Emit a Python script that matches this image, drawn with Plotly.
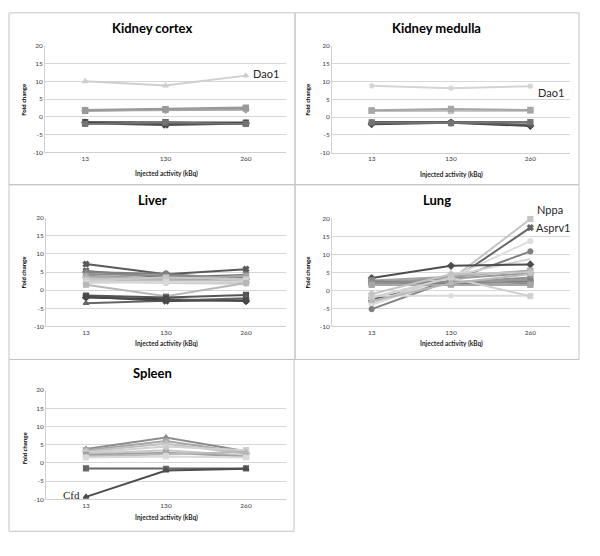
import plotly.graph_objects as go

# ---------------- data ----------------
doses = ["13", "130", "260"]
y_ticks = [-10, -5, 0, 5, 10, 15, 20]
panel_titles = ["Kidney cortex", "Kidney medulla", "Liver", "Lung", "Spleen"]
x_title = "Injected activity (kBq)"
y_title = "Fold change"

cortex_values = [
    [10.0, 8.8, 11.6],
    [1.7, 2.0, 2.4],
    [1.8, 1.9, 2.0],
    [1.9, 2.2, 2.6],
    [-1.5, -1.5, -1.6],
    [-1.8, -2.3, -1.9],
    [-1.6, -1.8, -1.8],
    [-2.0, -1.6, -2.0],
]
cortex_labels = ["Dao1", "", "", "", "", "", "", ""]

medulla_values = [
    [8.8, 8.1, 8.7],
    [1.8, 2.0, 1.9],
    [1.7, 1.7, 1.8],
    [1.9, 2.3, 2.0],
    [-1.4, -1.4, -1.5],
    [-2.0, -1.6, -2.5],
    [-1.8, -1.5, -2.2],
    [-1.5, -1.7, -1.4],
]
medulla_labels = ["Dao1", "", "", "", "", "", "", ""]

liver_values = [
    [7.2, 4.4, 5.8],
    [5.3, 3.5, 4.2],
    [5.0, 4.5, 3.0],
    [4.5, 4.0, 3.5],
    [4.0, 3.2, 2.5],
    [3.8, 3.0, 4.0],
    [3.5, 2.8, 2.2],
    [3.0, 2.5, 2.0],
    [2.8, 3.5, 3.0],
    [2.5, 2.0, 1.8],
    [2.0, 2.2, 2.5],
    [1.5, -1.7, 2.0],
    [-1.5, -2.0, -1.3],
    [-2.0, -2.5, -3.0],
    [-3.6, -2.8, -2.2],
    [-1.8, -3.0, -2.8],
]
liver_labels = [""] * 16

lung_values = [
    [-3.0, 3.0, 19.8],
    [-2.5, 2.5, 17.4],
    [-4.0, 3.5, 13.7],
    [-5.2, 2.8, 10.8],
    [-3.5, 4.0, 8.7],
    [3.4, 6.8, 7.2],
    [2.7, 3.8, 5.5],
    [2.3, 3.2, 4.8],
    [2.0, 2.0, 3.6],
    [1.8, 2.5, 3.0],
    [2.5, 1.8, 2.5],
    [2.2, 2.3, 2.0],
    [1.5, 1.6, 1.5],
    [-1.5, -1.5, -1.5],
    [-2.0, 3.5, -1.6],
    [-3.0, 2.0, 4.5],
    [-1.0, 4.5, 5.0],
]
lung_labels = ["Nppa", "Asprv1"] + [""] * 15

spleen_values = [
    [3.8, 7.0, 3.2],
    [3.5, 6.0, 2.8],
    [3.2, 5.3, 2.5],
    [2.8, 4.5, 3.5],
    [2.5, 3.5, 2.0],
    [2.2, 2.8, 1.8],
    [1.8, 2.5, 3.0],
    [1.5, 1.8, 1.5],
    [-1.5, -1.6, -1.5],
    [-9.3, -2.1, -1.6],
]
spleen_labels = [""] * 9 + ["Cfd"]

# ---------------- styles ----------------
cortex_style = [
    ("#cfcfcf", "triangle-up"), ("#8c8c8c", "square"), ("#a6a6a6", "diamond"),
    ("#999999", "square"), ("#595959", "square"), ("#4d4d4d", "x"),
    ("#404040", "diamond"), ("#737373", "square"),
]
medulla_style = [
    ("#d4d4d4", "asterisk-open"), ("#b3b3b3", "square"), ("#c0c0c0", "square"),
    ("#a6a6a6", "square"), ("#4d4d4d", "asterisk-open"), ("#404040", "diamond"),
    ("#595959", "circle"), ("#737373", "square"),
]
liver_style = [
    ("#595959", "x"), ("#666666", "square"), ("#808080", "diamond"),
    ("#8c8c8c", "triangle-up"), ("#999999", "circle"), ("#a6a6a6", "square"),
    ("#b3b3b3", "diamond"), ("#bfbfbf", "triangle-up"), ("#c8c8c8", "square"),
    ("#d0d0d0", "circle"), ("#d9d9d9", "square"), ("#b8b8b8", "square"),
    ("#555555", "square"), ("#404040", "diamond"), ("#666666", "triangle-up"),
    ("#4a4a4a", "x"),
]
lung_style = [
    ("#c4c4c4", "square"), ("#666666", "x"), ("#dedede", "circle"),
    ("#808080", "circle"), ("#d4d4d4", None), ("#4d4d4d", "diamond"),
    ("#a6a6a6", "square"), ("#999999", "diamond"), ("#8c8c8c", "square"),
    ("#999999", "triangle-up"), ("#808080", "square"), ("#8c8c8c", "square"),
    ("#a6a6a6", "square"), ("#dadada", "asterisk-open"), ("#d0d0d0", "x"),
    ("#b8b8b8", "triangle-up"), ("#c4c4c4", "diamond"),
]
spleen_style = [
    ("#8c8c8c", "triangle-up"), ("#a6a6a6", "square"), ("#bfbfbf", "diamond"),
    ("#d0d0d0", "square"), ("#c8c8c8", "circle"), ("#a0a0a0", "square"),
    ("#b8b8b8", "triangle-up"), ("#dadada", "square"), ("#666666", "square"),
    ("#4d4d4d", "triangle-up"),
]

W, H = 600, 556
FONT = "Lato, Carlito, 'Liberation Sans', sans-serif"

# panel geometry in pixels: plot area (x0, x1, ytop, ybot), frame (x0, x1, y0, y1)
panels = [
    dict(vals=cortex_values, labs=cortex_labels, sty=cortex_style,
         plot=(45, 286, 42.3, 150.3), frame=(9, 295, 9, 183),
         title=(152, 24), ytitle=(24, 97), xtitle=(166, 172),
         lab=dict(xshift=5, yshift=2)),
    dict(vals=medulla_values, labs=medulla_labels, sty=medulla_style,
         plot=(332, 570, 42.5, 150.5), frame=(295, 579, 9, 183),
         title=(436, 24), ytitle=(308, 97), xtitle=(451, 173),
         lab=dict(xshift=6, yshift=-6)),
    dict(vals=liver_values, labs=liver_labels, sty=liver_style,
         plot=(46, 286, 216.5, 326.5), frame=(9, 295, 183, 360),
         title=(152, 199), ytitle=(24, 272), xtitle=(166, 344),
         lab=dict(xshift=5, yshift=0)),
    dict(vals=lung_values, labs=lung_labels, sty=lung_style,
         plot=(332, 570, 217, 326.5), frame=(295, 579, 183, 360),
         title=(437, 199), ytitle=(308, 272), xtitle=(451, 344),
         lab=dict(xshift=5, yshift=9)),
    dict(vals=spleen_values, labs=spleen_labels, sty=spleen_style,
         plot=(46, 286, 391, 501.7), frame=(9, 294, 360, 534),
         title=(152, 374), ytitle=(24, 450), xtitle=(166, 520),
         lab=dict(xshift=-4, yshift=2)),
]


def px(xp):
    return xp / W


def py(yp):
    return 1 - yp / H


x_idx = list(range(len(doses)))

fig = go.Figure()
annotations = []
shapes = []
layout_axes = {}

for i, p in enumerate(panels):
    n = i + 1
    xa = "x" if n == 1 else f"x{n}"
    ya = "y" if n == 1 else f"y{n}"
    x0, x1, yt, yb = p["plot"]
    layout_axes["xaxis" if n == 1 else f"xaxis{n}"] = dict(
        domain=[px(x0), px(x1)], anchor=ya,
        range=[-0.5, len(doses) - 0.5], tickvals=x_idx, ticktext=doses,
        showgrid=False, zeroline=False,
        showline=True, linecolor="#d0d0d0", linewidth=1,
        ticks="", tickfont=dict(family=FONT, size=6.5, color="#404040"),
        fixedrange=True,
    )
    layout_axes["yaxis" if n == 1 else f"yaxis{n}"] = dict(
        domain=[py(yb), py(yt)], anchor=xa, range=[-10, 20],
        tickvals=y_ticks, ticktext=[str(v) for v in y_ticks],
        showgrid=True, gridcolor="#d6d6d6", gridwidth=1, zeroline=False,
        showline=True, linecolor="#d0d0d0", linewidth=1,
        ticks="", tickfont=dict(family=FONT, size=6.5, color="#404040"),
        fixedrange=True,
    )
    for vals, lab, (col, sym) in zip(p["vals"], p["labs"], p["sty"]):
        mode = "lines" if sym is None else "lines+markers"
        marker = dict(size=5, color=col, symbol=sym or "circle",
                      line=dict(color=col, width=1.2))
        fig.add_trace(go.Scatter(
            x=x_idx, y=vals, mode=mode, xaxis=xa, yaxis=ya,
            line=dict(color=col, width=2), marker=marker,
            cliponaxis=False, hoverinfo="skip",
        ))
        if lab:
            k = 0 if lab == "Cfd" else len(doses) - 1
            annotations.append(dict(
                x=x_idx[k], y=vals[k], xref=xa, yref=ya, text=lab,
                showarrow=False,
                xanchor="right" if k == 0 else "left", yanchor="middle",
                xshift=p["lab"]["xshift"] if lab != "Asprv1" else 4,
                yshift=p["lab"]["yshift"] if lab != "Asprv1" else 0,
                font=dict(family="'Liberation Serif', serif" if lab == "Cfd" else FONT,
                          size=11, color="#262626"),
            ))
    fx0, fx1, fy0, fy1 = p["frame"]
    shapes.append(dict(type="rect", xref="paper", yref="paper",
                       x0=px(fx0), x1=px(fx1), y0=py(fy1), y1=py(fy0),
                       line=dict(color="#c4c4c4", width=1), layer="below"))
    tx, ty = p["title"]
    annotations.append(dict(x=px(tx), y=py(ty), xref="paper", yref="paper",
                            text=f"<b>{panel_titles[i]}</b>", showarrow=False,
                            xanchor="center", yanchor="middle",
                            font=dict(family=FONT, size=13, color="#000000")))
    yx, yy = p["ytitle"]
    annotations.append(dict(x=px(yx), y=py(yy), xref="paper", yref="paper",
                            text=f"<b>{y_title}</b>", showarrow=False, textangle=-90,
                            xanchor="center", yanchor="middle",
                            font=dict(family=FONT, size=6, color="#000000")))
    xx, xy = p["xtitle"]
    annotations.append(dict(x=px(xx), y=py(xy), xref="paper", yref="paper",
                            text=f"<b>{x_title}</b>", showarrow=False,
                            xanchor="center", yanchor="middle",
                            font=dict(family=FONT, size=6.5, color="#262626")))

fig.update_layout(
    width=W, height=H, margin=dict(l=0, r=0, t=0, b=0),
    paper_bgcolor="white", plot_bgcolor="white", showlegend=False,
    annotations=annotations, shapes=shapes, **layout_axes,
)

fig.write_html(
    "out.html",
    config={"displayModeBar": False},
    post_script="document.body.style.margin='0';document.body.style.overflow='hidden';",
)
